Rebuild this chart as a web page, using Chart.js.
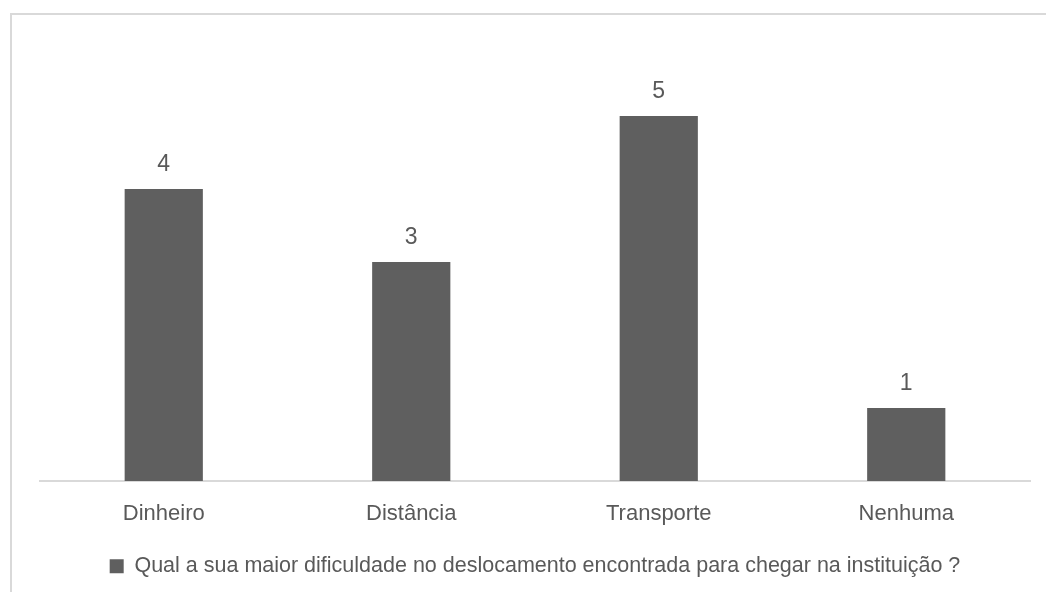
<!DOCTYPE html>
<html>
<head>
<meta charset="utf-8">
<script src="https://cdn.jsdelivr.net/npm/chart.js@4/dist/chart.umd.min.js"></script>
<style>
  html, body { margin: 0; padding: 0; background: #ffffff; overflow: hidden; }
  #wrap { position: relative; width: 1046px; height: 592px; }
  #frame { position: absolute; left: 10px; top: 13px; width: 1100px; height: 650px;
           border: 2px solid #d9d9d9; box-sizing: border-box; }
  #c { position: absolute; left: 0; top: 0; }
</style>
</head>
<body>
<div id="wrap">
  <div id="frame"></div>
  <canvas id="c" width="1046" height="592"></canvas>
</div>
<script>
const categories = ["Dinheiro", "Distância", "Transporte", "Nenhuma"];
const counts = [4, 3, 5, 1];
const seriesName = "Qual a sua maior dificuldade no deslocamento encontrada para chegar na instituição ?";

const textColor = "#595959";
const barColor = "#5f5f5f";
const fontFamily = "'Liberation Sans', Arial, sans-serif";

// Writes each bar's value just above it
const valueLabels = {
  id: "valueLabels",
  afterDatasetsDraw(chart) {
    const ctx = chart.ctx;
    ctx.save();
    ctx.font = "23px " + fontFamily;
    ctx.fillStyle = textColor;
    ctx.textAlign = "center";
    ctx.textBaseline = "alphabetic";
    chart.data.datasets.forEach((ds, di) => {
      chart.getDatasetMeta(di).data.forEach((bar, i) => {
        ctx.fillText(String(ds.data[i]), bar.x, bar.y - 18);
      });
    });
    ctx.restore();
  }
};

new Chart(document.getElementById("c"), {
  type: "bar",
  data: {
    labels: categories,
    datasets: [{
      label: seriesName,
      data: counts,
      backgroundColor: barColor,
      borderWidth: 0,
      barPercentage: 1,
      categoryPercentage: 0.316
    }]
  },
  options: {
    responsive: false,
    animation: false,
    layout: { padding: { left: 40, right: 16, top: 43, bottom: 5 } },
    scales: {
      x: {
        grid: { display: false, drawTicks: false },
        border: { display: true, color: "#d9d9d9", width: 2 },
        ticks: { color: textColor, font: { size: 22, family: fontFamily }, padding: 20 }
      },
      y: {
        display: false,
        min: 0,
        max: 6
      }
    },
    plugins: {
      legend: {
        position: "bottom",
        labels: {
          color: textColor,
          font: { size: 21.5, family: fontFamily },
          boxWidth: 14,
          boxHeight: 14,
          padding: 8
        }
      },
      tooltip: { enabled: false }
    }
  },
  plugins: [valueLabels]
});
</script>
</body>
</html>
